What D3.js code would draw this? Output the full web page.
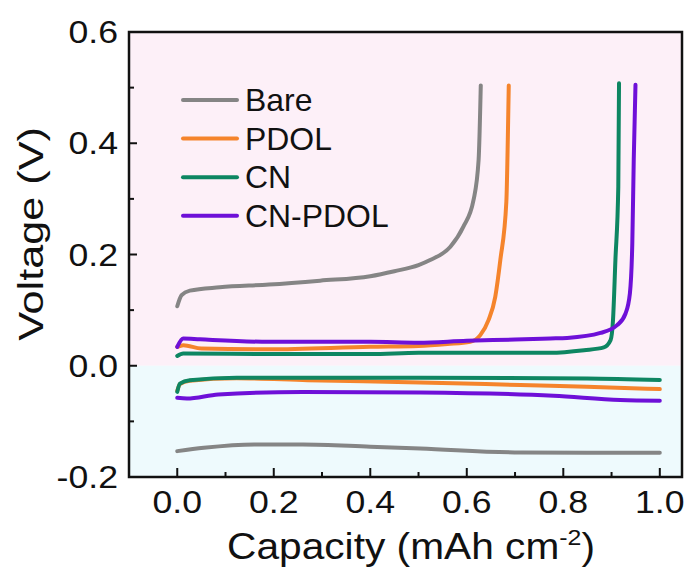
<!DOCTYPE html>
<html>
<head>
<meta charset="utf-8">
<script src="https://cdn.jsdelivr.net/npm/d3@7"></script>
<style>
  body { margin: 0; background: #fff; }
  text { font-family: "Liberation Sans", Arial, sans-serif; fill: #111; }
</style>
</head>
<body>
<div id="chart"></div>
<script>
const svgWidth = 691,
    svgHeight = 581,
    margin = { top: 32, right: 9, bottom: 104, left: 129 },
    width = svgWidth - margin.left - margin.right,
    height = svgHeight - margin.top - margin.bottom;

// series names + colours
const seriesNames = ["Bare", "PDOL", "CN", "CN-PDOL"];
const seriesColors = ["#858585", "#f5842c", "#0e8662", "#6e10d8"];

// charge curves [capacity, voltage]
const bareCharge = [[0, 0.107], [0.009, 0.127], [0.026, 0.135], [0.088, 0.141], [0.19, 0.146], [0.296, 0.153],
    [0.40, 0.161], [0.45, 0.170], [0.50, 0.181], [0.524, 0.190], [0.566, 0.214], [0.593, 0.250],
    [0.614, 0.298], [0.6245, 0.370], [0.629, 0.504]];
const pdolCharge = [[0, 0.034], [0.0125, 0.037], [0.05, 0.031], [0.19, 0.0295], [0.40, 0.034], [0.50, 0.0355],
    [0.56, 0.039], [0.607, 0.043], [0.628, 0.055], [0.645, 0.082], [0.659, 0.124], [0.6695, 0.19],
    [0.682, 0.295], [0.685, 0.406], [0.687, 0.504]];
const cnCharge = [[0, 0.0175], [0.0125, 0.022], [0.19, 0.021], [0.40, 0.021], [0.50, 0.0234], [0.773, 0.0234],
    [0.843, 0.028], [0.884, 0.033], [0.898, 0.046], [0.903, 0.082], [0.908, 0.19], [0.914, 0.322],
    [0.9155, 0.508]];
const cnPdolCharge = [[0, 0.034], [0.0125, 0.049], [0.047, 0.0475], [0.19, 0.043], [0.40, 0.043], [0.50, 0.0414],
    [0.60, 0.045], [0.70, 0.047], [0.773, 0.049], [0.808, 0.050], [0.877, 0.059], [0.9115, 0.073],
    [0.929, 0.094], [0.938, 0.130], [0.943, 0.22], [0.946, 0.37], [0.9496, 0.505]];

// discharge curves
const bareDischarge = [[0, -0.1535], [0.055, -0.1475], [0.16, -0.1415], [0.26, -0.1415], [0.40, -0.1455],
    [0.5035, -0.1487], [0.711, -0.156], [0.85, -0.1565], [1.0, -0.1566]];
const pdolDischarge = [[0, -0.045], [0.0055, -0.033], [0.026, -0.027], [0.123, -0.0225], [0.27, -0.026],
    [0.5035, -0.030], [0.711, -0.0347], [0.849, -0.0378], [1.0, -0.042]];
const cnDischarge = [[0, -0.047], [0.0055, -0.032], [0.026, -0.026], [0.123, -0.0215], [0.5035, -0.0215],
    [0.849, -0.0227], [1.0, -0.0257]];
const cnPdolDischarge = [[0, -0.0576], [0.02, -0.059], [0.085, -0.0515], [0.26, -0.047], [0.5035, -0.048],
    [0.78, -0.054], [0.918, -0.0617], [1.0, -0.063]];

const chargeData = [bareCharge, pdolCharge, cnCharge, cnPdolCharge];
const dischargeData = [bareDischarge, pdolDischarge, cnDischarge, cnPdolDischarge];

const xMajor = [0, 0.2, 0.4, 0.6, 0.8, 1.0];
const xMinor = [0.1, 0.3, 0.5, 0.7, 0.9];
const yMajor = [-0.2, 0, 0.2, 0.4, 0.6];
const yMinor = [-0.1, 0.1, 0.3, 0.5];

// plain hyphen for negatives, like the original
const fmt = (d) => d.toFixed(1);

let svgRoot = d3.select("#chart").append("svg")
    .attr("width", svgWidth)
    .attr("height", svgHeight);
let svg = svgRoot.append("g")
    .attr("transform", `translate(${margin.left},${margin.top})`);

let xScale = d3.scaleLinear().domain([-0.1, 1.046]).range([0, width]);
let yScale = d3.scaleLinear().domain([-0.2, 0.6]).range([height, 0]);

// background bands
svg.append("rect")
    .attr("x", 0).attr("y", 0)
    .attr("width", width).attr("height", yScale(0))
    .attr("fill", "#fdf0f8");
svg.append("rect")
    .attr("x", 0).attr("y", yScale(0))
    .attr("width", width).attr("height", height - yScale(0))
    .attr("fill", "#eefafd");

// curves
let line = d3.line()
    .x((d) => xScale(d[0]))
    .y((d) => yScale(d[1]))
    .curve(d3.curveMonotoneX);

seriesNames.forEach((name, i) => {
    [chargeData[i], dischargeData[i]].forEach((pts) => {
        svg.append("path")
            .datum(pts)
            .attr("d", line)
            .attr("fill", "none")
            .attr("stroke", seriesColors[i])
            .attr("stroke-width", 4)
            .attr("stroke-linecap", "round")
            .attr("stroke-linejoin", "round");
    });
});

// axes: ticks pointing inward
let xAxis = svg.append("g").attr("transform", `translate(0,${height})`);
xAxis.selectAll("line.major").data(xMajor).join("line")
    .attr("x1", (d) => xScale(d)).attr("x2", (d) => xScale(d))
    .attr("y1", 0).attr("y2", -9)
    .attr("stroke", "#111").attr("stroke-width", 2);
xAxis.selectAll("line.minor").data(xMinor).join("line")
    .attr("x1", (d) => xScale(d)).attr("x2", (d) => xScale(d))
    .attr("y1", 0).attr("y2", -5)
    .attr("stroke", "#111").attr("stroke-width", 2);
xAxis.selectAll("text").data(xMajor).join("text")
    .attr("transform", (d) => `translate(${xScale(d)},36) scale(1.15,1)`)
    .attr("text-anchor", "middle")
    .attr("font-size", 31)
    .text(fmt);

let yAxis = svg.append("g");
yAxis.selectAll("line.major").data(yMajor).join("line")
    .attr("x1", 0).attr("x2", 8)
    .attr("y1", (d) => yScale(d)).attr("y2", (d) => yScale(d))
    .attr("stroke", "#111").attr("stroke-width", 2);
yAxis.selectAll("line.minor").data(yMinor).join("line")
    .attr("x1", 0).attr("x2", 5)
    .attr("y1", (d) => yScale(d)).attr("y2", (d) => yScale(d))
    .attr("stroke", "#111").attr("stroke-width", 2);
yAxis.selectAll("text").data(yMajor).join("text")
    .attr("transform", (d) => `translate(-11,${yScale(d) + 11}) scale(1.15,1)`)
    .attr("text-anchor", "end")
    .attr("font-size", 31)
    .text(fmt);

// frame
svg.append("rect")
    .attr("width", width).attr("height", height)
    .attr("fill", "none")
    .attr("stroke", "#111")
    .attr("stroke-width", 2.5);

// axis titles
let xTitle = svgRoot.append("text")
    .attr("transform", "translate(411,559) scale(1.13,1)")
    .attr("text-anchor", "middle")
    .attr("font-size", 36);
xTitle.append("tspan").text("Capacity (mAh cm");
xTitle.append("tspan").attr("font-size", 22).attr("dy", -14).text("-2");
xTitle.append("tspan").attr("dy", 14).text(")");

svgRoot.append("text")
    .attr("transform", "translate(43,234) rotate(-90) scale(1.2,1)")
    .attr("text-anchor", "middle")
    .attr("font-size", 36)
    .text("Voltage (V)");

// legend
let legend = svgRoot.append("g");
seriesNames.forEach((name, i) => {
    let ly = 100 + i * 38.6;
    legend.append("line")
        .attr("x1", 183).attr("x2", 237)
        .attr("y1", ly).attr("y2", ly)
        .attr("stroke", seriesColors[i])
        .attr("stroke-width", 4)
        .attr("stroke-linecap", "round");
    legend.append("text")
        .attr("transform", `translate(245,${ly + 11}) scale(1.03,1)`)
        .attr("font-size", 31)
        .text(name);
});
</script>
</body>
</html>
